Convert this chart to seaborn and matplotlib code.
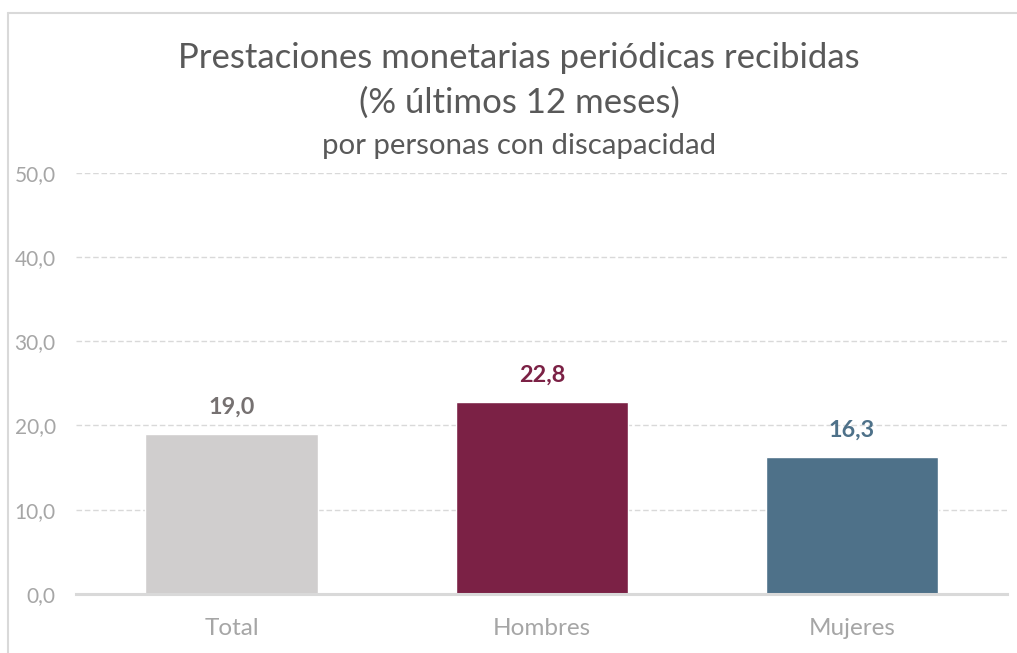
import matplotlib
matplotlib.use("Agg")
import matplotlib.pyplot as plt
from matplotlib.lines import Line2D
import seaborn as sns
import pandas as pd

categories = ["Total", "Hombres", "Mujeres"]
values = [19.0, 22.8, 16.3]
yticks = [0, 10, 20, 30, 40, 50]
title_line1 = "Prestaciones monetarias periódicas recibidas"
title_line2 = "(% últimos 12 meses)"
subtitle = "por personas con discapacidad"

bar_colors = ["#D0CECE", "#7B2145", "#4E7189"]
label_colors = ["#767171", "#7B2145", "#4E7189"]

sns.set_theme(style="white")
plt.rcParams['font.family'] = ['Lato', 'DejaVu Sans']

df = pd.DataFrame({"cat": categories, "val": values})

fig = plt.figure(figsize=(10.17, 6.53), dpi=100)
ax = fig.add_axes([0.0752, 0.0904, 0.915, 0.645])

sns.barplot(data=df, x="cat", y="val", hue="cat", palette=bar_colors,
            width=0.555, legend=False, ax=ax, saturation=1)

ax.set_ylim(0, 50)
ax.set_xlim(-0.5, 2.5)
ax.set_yticks(yticks)
ax.set_yticklabels([f"{t:.1f}".replace(".", ",") for t in yticks])
ax.set_xlabel("")
ax.set_ylabel("")
ax.tick_params(axis="y", colors="#A6A6A6", labelsize=15, length=0, pad=15)
ax.tick_params(axis="x", colors="#A6A6A6", labelsize=17.5, length=0, pad=17)
for lbl in ax.get_yticklabels() + ax.get_xticklabels():
    lbl.set_color("#A6A6A6")

ax.yaxis.grid(True, linestyle=(0, (4, 2)), color="#D9D9D9", linewidth=1)
ax.set_axisbelow(True)
for s in ["top", "right", "left"]:
    ax.spines[s].set_visible(False)
ax.spines["bottom"].set_color("#D9D9D9")
ax.spines["bottom"].set_linewidth(2.2)

for i, (v, c) in enumerate(zip(values, label_colors)):
    ax.annotate(f"{v:.1f}".replace(".", ","), xy=(i, v), xytext=(0, 19),
                textcoords="offset points", ha="center", va="center",
                fontsize=16.8, fontweight="bold", color=c)

cx = 519 / 1017
fig.text(cx, 1 - 58 / 653, title_line1, ha="center", va="center",
         fontsize=25, color="#595959")
fig.text(cx, 1 - 103 / 653, title_line2, ha="center", va="center",
         fontsize=25, color="#595959")
fig.text(cx, 1 - 146 / 653, subtitle, ha="center", va="center",
         fontsize=21.2, color="#595959")

# chart frame (top and left edges)
fig.add_artist(Line2D([8 / 1017, 1.0], [1 - 12.5 / 653, 1 - 12.5 / 653],
                      transform=fig.transFigure, color="#D9D9D9", linewidth=1.5))
fig.add_artist(Line2D([8 / 1017, 8 / 1017], [0, 1 - 12.5 / 653],
                      transform=fig.transFigure, color="#D9D9D9", linewidth=1.5))

fig.savefig("out.png", dpi=100)
